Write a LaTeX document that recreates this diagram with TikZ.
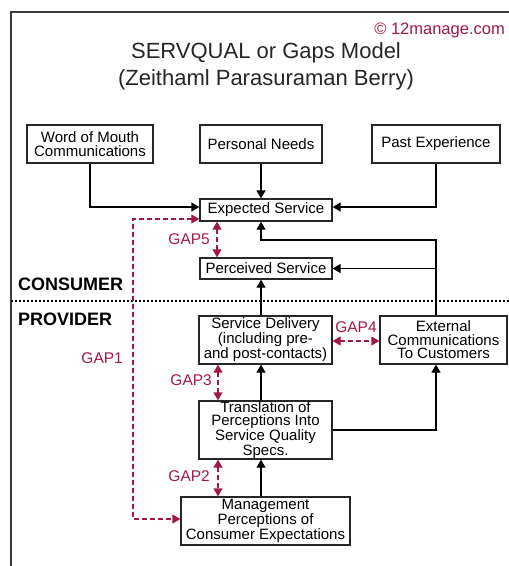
\documentclass[tikz,border=0pt]{standalone}
\usepackage{fontspec}
\setmainfont{Liberation Sans}
\usetikzlibrary{arrows.meta,calc}
\definecolor{gapred}{RGB}{160,24,72}
\definecolor{framegray}{RGB}{60,60,60}
\begin{document}
\begin{tikzpicture}[x=1pt,y=-1pt,
  box/.style={draw=black!85, line width=1.3pt, inner sep=0pt, align=center,
    font=\fontsize{15}{13.5}\selectfont},
  conn/.style={line width=1.3pt, -{Triangle[length=8pt,width=9pt]}},
  gap/.style={draw=gapred, line width=1.3pt, dash pattern=on 5pt off 3pt,
    {Triangle[length=8pt,width=9pt]}-{Triangle[length=8pt,width=9pt]}},
  gaplbl/.style={text=gapred, font=\fontsize{15.5}{16}\selectfont, inner sep=0pt},
  side/.style={font=\fontsize{18}{18}\selectfont\bfseries, inner sep=0pt, anchor=west},
  ttl/.style={font=\fontsize{22}{24}\selectfont, inner sep=0pt, text=black!85}
]
\useasboundingbox (0,0) rectangle (509,566);
\fill[white] (0,0) rectangle (509,566);
% frame
\draw[line width=1.5pt, framegray] (11,566) -- (11,12) -- (509,12);

% titles
\node[text=gapred, font=\fontsize{16.5}{18}\selectfont, inner sep=0pt, anchor=east] (copy) at (505,30) {© 12manage.com};
\node[ttl] (t1) at (266,53) {SERVQUAL or Gaps Model};
\node[ttl] (t2) at (266,80) {(Zeithaml Parasuraman Berry)};

% boxes
\node[box, minimum width=126pt, minimum height=38pt] (wom) at (90,144) {Word of Mouth\\Communications};
\node[box, minimum width=122pt, minimum height=38pt] (pn) at (261,144) {Personal Needs};
\node[box, minimum width=128pt, minimum height=38pt] (pe) at (436,144) {Past Experience};
\node[box, minimum width=132pt, minimum height=22pt] (es) at (266,210) {Expected Service};
\node[box, minimum width=132pt, minimum height=21pt] (ps) at (266,268.5) {Perceived Service};
\node[box, minimum width=133pt, minimum height=48pt] (sd) at (265.5,340) {Service Delivery\\(including pre-\\and post-contacts)};
\node[box, minimum width=127pt, minimum height=48pt] (ext) at (443.5,340) {External\\Communications\\To Customers};
\node[box, minimum width=133pt, minimum height=58pt] (tr) at (265.5,430) {Translation of\\Perceptions Into\\Service Quality\\Specs.};
\node[box, minimum width=169pt, minimum height=48pt] (mg) at (265.5,521) {Management\\Perceptions of\\Consumer Expectations};

% consumer / provider
\node[side] (cons) at (18,284) {CONSUMER};
\node[side] (prov) at (18,319) {PROVIDER};
\draw[line width=2pt, dash pattern=on 2pt off 2pt] (11,301) -- (509,301);

% black connectors
\draw[conn] (pn.south) -- (es.north -| pn.south);
\draw[conn] (wom.south) |- ($(es.west)+(0,-3)$);
\draw[conn] (pe.south) |- ($(es.east)+(0,-3)$);
\draw[conn] (ext.north -| pe.south) -- (pe.south |- 0,240) -| (es.south -| pn.south);
\draw[conn] (ext.north -| pe.south) |- (ps.east);
\draw[conn] (sd.north -| pn.south) -- (ps.south -| pn.south);
\draw[conn] (tr.north -| pn.south) -- (sd.south -| pn.south);
\draw[conn] (mg.north -| pn.south) -- (tr.south -| pn.south);
\draw[conn] (tr.east) -| (ext.south -| pe.south);

% gaps
\draw[gap] (es.south -| 217,0) -- (ps.north -| 217,0);
\draw[gap] (sd.east |- 0,341) -- (ext.west |- 0,341);
\draw[gap] (sd.south -| 218,0) -- (tr.north -| 218,0);
\draw[gap] (tr.south -| 218,0) -- (mg.north -| 218,0);
\draw[gap] (es.west |- 0,219) -- (133,219) -- (133,519) -- (mg.west |- 0,519);

\node[gaplbl, anchor=east] (g5) at (210,239) {GAP5};
\node[gaplbl] (g4) at (356,327) {GAP4};
\node[gaplbl, anchor=east] (g3) at (212,380) {GAP3};
\node[gaplbl, anchor=east] (g2) at (210,476) {GAP2};
\node[gaplbl, anchor=east] (g1) at (123,358) {GAP1};
\end{tikzpicture}
\end{document}
